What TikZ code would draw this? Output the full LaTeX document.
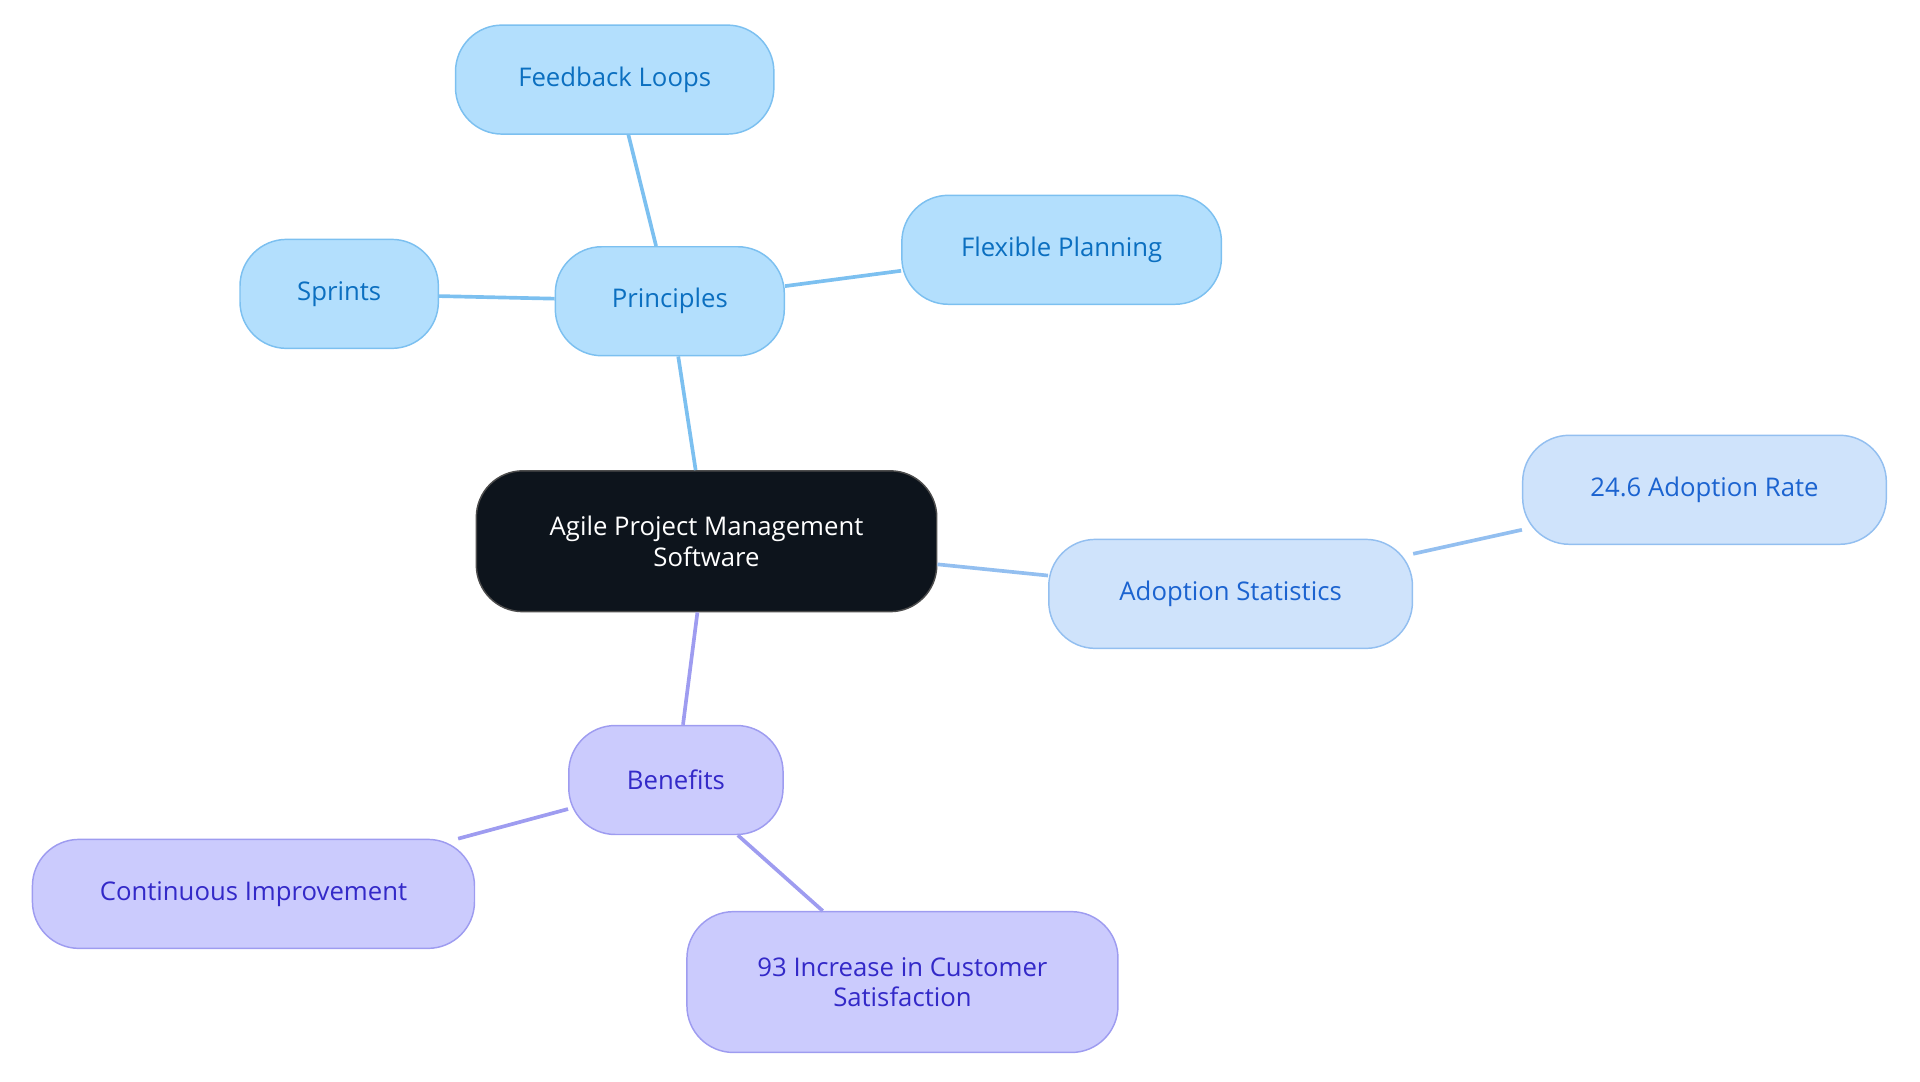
\documentclass[tikz,border=0pt]{standalone}
\usepackage{fontspec}
\setmainfont{Open Sans}
\definecolor{bfill}{HTML}{B3DFFD}\definecolor{bdraw}{HTML}{7CC0F0}\definecolor{btext}{HTML}{0B6FC0}
\definecolor{afill}{HTML}{CFE3FB}\definecolor{adraw}{HTML}{93BFF0}\definecolor{atext}{HTML}{1B63D0}
\definecolor{pfill}{HTML}{CBCBFD}\definecolor{pdraw}{HTML}{9E9CF0}\definecolor{ptext}{HTML}{3329C8}
\definecolor{cfill}{HTML}{0D141C}
\tikzset{
 box/.style={rounded corners=38pt,line width=1.2pt,minimum height=89pt,align=center,font=\fontsize{21}{25}\selectfont,inner sep=0pt},
 bbox/.style={box,fill=bfill,draw=bdraw,text=btext},
 abox/.style={box,fill=afill,draw=adraw,text=atext},
 pbox/.style={box,fill=pfill,draw=pdraw,text=ptext},
 cbox/.style={box,fill=cfill,draw=black!70,text=white},
 bl/.style={draw=bdraw,line width=3pt},
 al/.style={draw=adraw,line width=3pt},
 pl/.style={draw=pdraw,line width=3pt},
}
\begin{document}
\begin{tikzpicture}[x=1pt,y=-1pt]
\useasboundingbox (0,0) rectangle (1568,883);
\node[cbox,minimum width=376pt,minimum height=115pt] (c) at (577,442) {Agile Project Management\\Software};
\node[bbox,minimum width=187pt] (p) at (547,246) {Principles};
\node[bbox,minimum width=260pt] (f) at (502,65) {Feedback Loops};
\node[bbox,minimum width=261pt] (fp) at (867,204) {Flexible Planning};
\node[bbox,minimum width=162pt] (s) at (277,240) {Sprints};
\node[abox,minimum width=297pt] (a) at (1005,485) {Adoption Statistics};
\node[abox,minimum width=297pt] (ar) at (1392,400) {24.6 Adoption Rate};
\node[pbox,minimum width=175pt] (b) at (552,637) {Benefits};
\node[pbox,minimum width=361pt] (ci) at (207,730) {Continuous Improvement};
\node[pbox,minimum width=352pt,minimum height=115pt] (cs) at (737,802) {93 Increase in Customer\\Satisfaction};
\draw[bl] (c.north) ++(-9,0) coordinate (c1);
\draw[bl] (c) -- (p);
\draw[bl] (p) -- (f);
\draw[bl] (p) -- (fp);
\draw[bl] (p) -- (s);
\draw[al] (c) -- (a);
\draw[al] (a) -- (ar);
\draw[pl] (c) -- (b);
\draw[pl] (b) -- (ci);
\draw[pl] (b) -- (cs);
\end{tikzpicture}
\end{document}
